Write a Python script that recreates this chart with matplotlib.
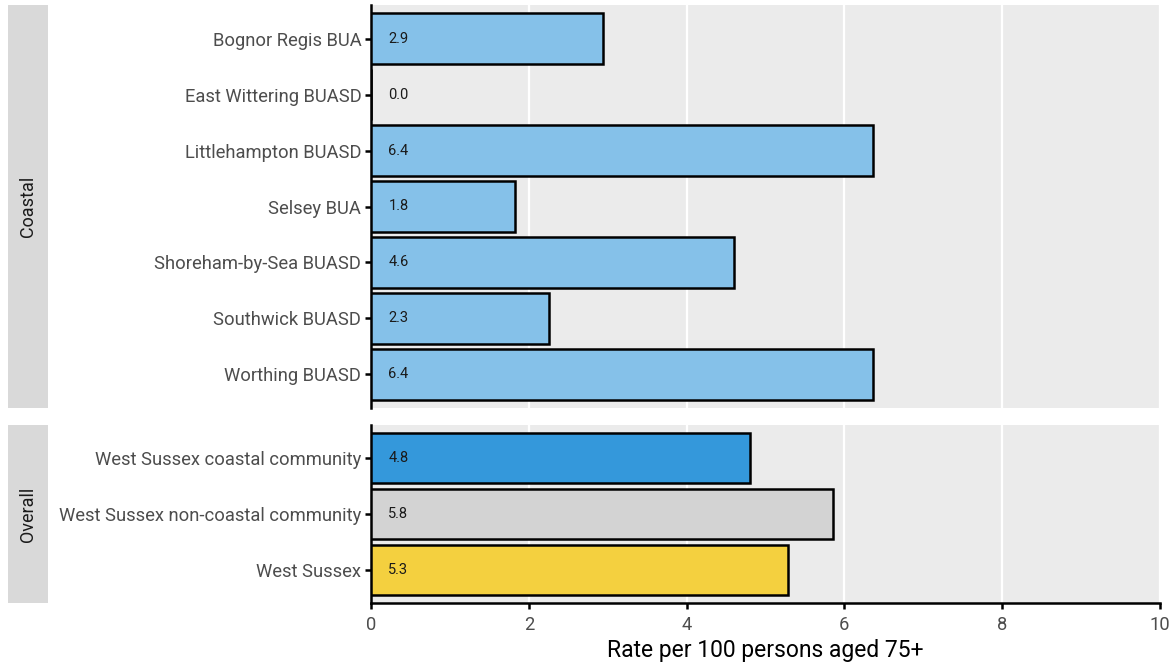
import matplotlib.pyplot as plt
from matplotlib.patches import Rectangle

# ---- data ----
coastal_labels = ["Bognor Regis BUA", "East Wittering BUASD", "Littlehampton BUASD",
                  "Selsey BUA", "Shoreham-by-Sea BUASD", "Southwick BUASD", "Worthing BUASD"]
coastal_values = [2.94, 0.0, 6.36, 1.83, 4.60, 2.26, 6.36]
coastal_text = ["2.9", "0.0", "6.4", "1.8", "4.6", "2.3", "6.4"]

overall_labels = ["West Sussex coastal community", "West Sussex non-coastal community", "West Sussex"]
overall_values = [4.80, 5.86, 5.28]
overall_text = ["4.8", "5.8", "5.3"]
overall_colors = ["#3498DB", "#D3D3D3", "#F4D03F"]

facet_names = ["Coastal", "Overall"]
x_ticks = [0, 2, 4, 6, 8, 10]
x_title = "Rate per 100 persons aged 75+"

plt.rcParams["font.family"] = ["Roboto", "DejaVu Sans"]

W, H = 1171, 662
fig = plt.figure(figsize=(W / 100, H / 100), dpi=100)


def px_axes(x0, y0, x1, y1):
    return fig.add_axes([x0 / W, 1 - y1 / H, (x1 - x0) / W, (y1 - y0) / H])


def draw_panel(ax, labels, values, texts, colors, show_x):
    n = len(labels)
    ys = list(range(n))
    ax.set_facecolor("#EBEBEB")
    ax.barh(ys, values, height=0.9, color=colors, edgecolor="black", linewidth=1.8, zorder=3)
    for y, t in zip(ys, texts):
        ax.text(0.22, y, t, ha="left", va="center", fontsize=10.5, color="#1A1A1A", zorder=4)
    ax.set_xlim(0, 10)
    ax.set_ylim(n - 1 + 0.6, -0.6)
    ax.set_yticks(ys, labels)
    ax.set_xticks(x_ticks)
    ax.grid(axis="x", color="white", linewidth=1.6, zorder=0)
    ax.set_axisbelow(True)
    for s in ["top", "right"]:
        ax.spines[s].set_visible(False)
    ax.spines["left"].set_linewidth(1.8)
    ax.spines["left"].set_color("black")
    ax.tick_params(axis="y", length=4, width=1.8, color="black", labelsize=13.2, labelcolor="#4D4D4D", pad=3)
    if show_x:
        ax.spines["bottom"].set_linewidth(1.8)
        ax.spines["bottom"].set_color("black")
        ax.tick_params(axis="x", length=4, width=1.8, color="black", labelsize=13.2, labelcolor="#4D4D4D", pad=5)
        ax.set_xlabel(x_title, fontsize=16.5, color="black", labelpad=4)
    else:
        ax.spines["bottom"].set_visible(False)
        ax.tick_params(axis="x", length=0, labelbottom=False)


ax1 = px_axes(371, 5, 1160, 408)
draw_panel(ax1, coastal_labels, coastal_values, coastal_text, ["#85C1E9"] * len(coastal_values), False)

ax2 = px_axes(371, 425, 1160, 603)
draw_panel(ax2, overall_labels, overall_values, overall_text, overall_colors, True)

# facet strips on the left
for name, (y0, y1) in zip(facet_names, [(5, 408), (425, 603)]):
    sax = px_axes(8, y0, 48, y1)
    sax.set_axis_off()
    sax.add_patch(Rectangle((0, 0), 1, 1, transform=sax.transAxes, color="#D9D9D9"))
    sax.text(0.5, 0.5, name, rotation=90, ha="center", va="center", fontsize=13,
             color="#1A1A1A", transform=sax.transAxes)

fig.savefig("out.png", dpi=100)
